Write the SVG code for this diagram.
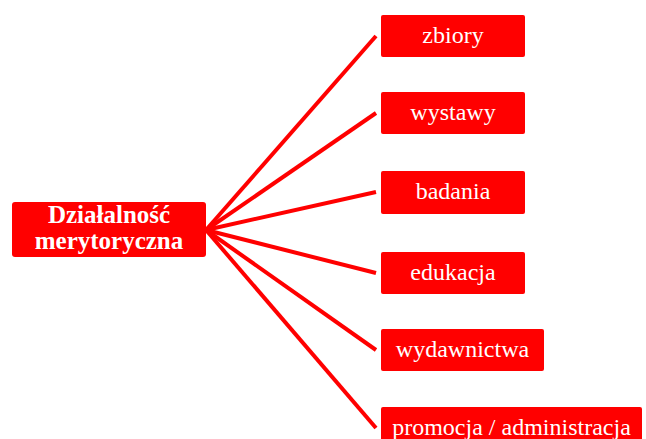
<svg xmlns="http://www.w3.org/2000/svg" width="646" height="439" viewBox="0 0 646 439">
<style>
.box{fill:#FF0000;}
.lbl{font-family:"Liberation Serif","Times New Roman",serif;font-size:24px;fill:#FFFFFF;text-anchor:middle;}
.main{font-family:"Liberation Serif","Times New Roman",serif;font-size:25px;font-weight:bold;fill:#FFFFFF;text-anchor:middle;}
.conn line{stroke:#FF0000;stroke-width:4;stroke-linecap:butt;}
</style>
<rect width="646" height="439" fill="#FFFFFF"/>
<g id="connectors" class="conn">
<line x1="206" y1="230" x2="376" y2="36"/>
<line x1="206" y1="230" x2="376" y2="113"/>
<line x1="206" y1="230" x2="376" y2="192"/>
<line x1="206" y1="230" x2="376" y2="273"/>
<line x1="206" y1="230" x2="376" y2="350"/>
<line x1="206" y1="230" x2="376" y2="428"/>
</g>
<g id="main">
<rect class="box" x="12" y="202" width="194" height="55" rx="3"/>
<text class="main" x="109" y="223">Działalność</text>
<text class="main" x="109" y="249">merytoryczna</text>
</g>
<g id="zbiory">
<rect class="box" x="381" y="15" width="144" height="42" rx="2"/>
<text class="lbl" x="453" y="43">zbiory</text>
</g>
<g id="wystawy">
<rect class="box" x="381" y="92" width="144" height="42" rx="2"/>
<text class="lbl" x="453" y="120">wystawy</text>
</g>
<g id="badania">
<rect class="box" x="381" y="171" width="144" height="43" rx="2"/>
<text class="lbl" x="453" y="199">badania</text>
</g>
<g id="edukacja">
<rect class="box" x="381" y="252" width="144" height="42" rx="2"/>
<text class="lbl" x="453" y="280">edukacja</text>
</g>
<g id="wydawnictwa">
<rect class="box" x="381" y="329" width="163" height="42" rx="2"/>
<text class="lbl" x="462.5" y="357">wydawnictwa</text>
</g>
<g id="promocja">
<rect class="box" x="381" y="407" width="261" height="44" rx="2"/>
<text class="lbl" x="511.5" y="435">promocja / administracja</text>
</g>
</svg>
